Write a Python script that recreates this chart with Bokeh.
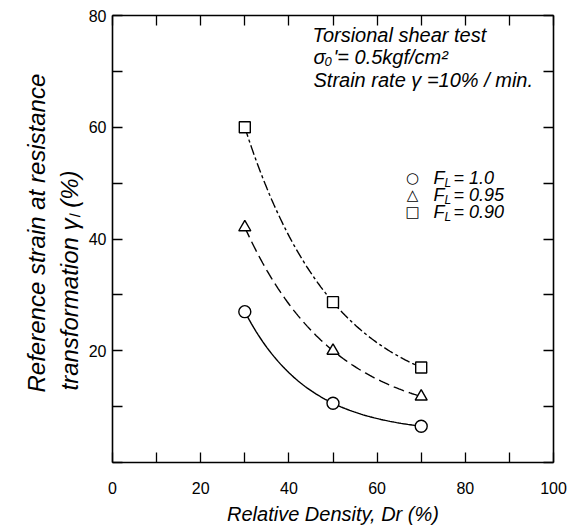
import math
import numpy as np
from bokeh.plotting import figure
from bokeh.models import Label, LinearAxis, FixedTicker, Range1d, Title
from bokeh.embed import file_html
from bokeh.resources import INLINE

# ---------------- data ----------------
dr = [30, 50, 70]                      # Relative density Dr (%)
gamma_fl100 = [27.0, 10.6, 6.5]        # F_L = 1.0  (circles)
gamma_fl095 = [42.1, 20.0, 11.8]       # F_L = 0.95 (triangles)
gamma_fl090 = [60.0, 28.7, 17.0]       # F_L = 0.90 (squares)
x_ticks = list(range(0, 101, 10))
y_ticks = list(range(0, 81, 10))
x_tick_labels = ["0", "", "20", "", "40", "", "60", "", "80", "", "100"]
y_tick_labels = ["", "", "20", "", "40", "", "60", "", "80"]

FONT = "Liberation Sans"

p = figure(width=572, height=528, x_range=Range1d(0, 100), y_range=Range1d(0, 80),
           output_backend="svg", toolbar_location=None,
           min_border_left=112, min_border_right=19, min_border_top=15, min_border_bottom=66,
           x_axis_location=None, y_axis_location=None)
p.grid.visible = False
p.outline_line_color = None
p.background_fill_color = "white"
p.border_fill_color = "white"


def style_axis(ax, ticks, labels, show_labels):
    ax.ticker = FixedTicker(ticks=ticks)
    ax.major_label_overrides = {t: l for t, l in zip(ticks, labels)}
    ax.minor_tick_line_color = None
    ax.major_tick_in = 10
    ax.major_tick_out = 0
    ax.major_tick_line_width = 1.3
    ax.major_tick_line_color = "black"
    ax.axis_line_color = "black"
    ax.axis_line_width = 1.6
    ax.major_label_text_font = FONT
    ax.major_label_text_color = "black"
    if show_labels:
        ax.major_label_text_font_size = "16px"
    else:
        ax.major_label_text_font_size = "0px"
        ax.major_label_standoff = 0


xb = LinearAxis()
style_axis(xb, x_ticks, x_tick_labels, True)
xb.major_label_standoff = 19
xb.axis_label = "Relative Density, Dr (%)"
xb.axis_label_text_font = FONT
xb.axis_label_text_font_style = "italic"
xb.axis_label_text_font_size = "20px"
xb.axis_label_text_color = "black"
xb.axis_label_standoff = 6
p.add_layout(xb, "below")

yl = LinearAxis()
style_axis(yl, y_ticks, y_tick_labels, True)
yl.major_label_standoff = 6
p.add_layout(yl, "left")

xt = LinearAxis()
style_axis(xt, x_ticks, [""] * len(x_ticks), False)
p.add_layout(xt, "above")

yr = LinearAxis()
style_axis(yr, y_ticks, [""] * len(y_ticks), False)
p.add_layout(yr, "right")

# y-axis title in two lines (inner line first)
t2 = Title(text="transformation γₗ (%)", align="left", offset=72, standoff=5,
           text_font=FONT, text_font_style="italic", text_font_size="24px",
           text_color="black")
p.add_layout(t2, "left")
t1 = Title(text="Reference strain at resistance", align="left", offset=70, standoff=3,
           text_font=FONT, text_font_style="italic", text_font_size="24px",
           text_color="black")
p.add_layout(t1, "left")


# ---------------- smooth curves through the three points ----------------
def exp_curve(xs, ys, n=80):
    x1, x2, x3 = xs
    y1, y2, y3 = ys
    h = x2 - x1
    r = (y3 - y2) / (y2 - y1)
    c = -math.log(r) / h
    b = (y2 - y1) / (math.exp(-c * x2) - math.exp(-c * x1))
    a = y1 - b * math.exp(-c * x1)
    xx = np.linspace(x1, x3, n)
    return xx, a + b * np.exp(-c * xx)


cx, cy = exp_curve(dr, gamma_fl100)
p.line(cx, cy, line_color="black", line_width=1.4)
tx, ty = exp_curve(dr, gamma_fl095)
p.line(tx, ty, line_color="black", line_width=1.4, line_dash="11 5")
sx, sy = exp_curve(dr, gamma_fl090)
p.line(sx, sy, line_color="black", line_width=1.4, line_dash="10 3 3 3")

p.scatter(dr, gamma_fl100, marker="circle", size=12, fill_color="white",
          line_color="black", line_width=1.4)
p.scatter(dr, gamma_fl095, marker="triangle", size=12, fill_color="white",
          line_color="black", line_width=1.4)
p.scatter(dr, gamma_fl090, marker="square", size=11, fill_color="white",
          line_color="black", line_width=1.4)

# ---------------- text placed relative to the top-left frame corner ----------------
FX, FY = 112, 15  # pixel position of data point (0, 80)


def lab(text, px, py, size, align="left", baseline="middle", style="italic", font=FONT):
    p.add_layout(Label(x=0, y=80, x_units="data", y_units="data",
                       x_offset=px - FX, y_offset=FY - py, text=text,
                       text_font=font, text_font_size=f"{size}px", text_font_style=style,
                       text_color="black", text_align=align, text_baseline=baseline))


# annotation
lab("Torsional shear test", 312, 34, 20)
lab("σ", 313, 56, 20)
lab("0", 324, 61, 13)
lab("'= 0.5kgf/cm²", 333, 56, 20)
lab("Strain rate γ =10% / min.", 313, 79, 20)

# legend
leg_rows = [("○", "= 1.0", 177), ("△", "= 0.95", 194), ("□", "= 0.90", 211)]
for sym, txt, py in leg_rows:
    lab(sym, 412, py, 15, align="center", style="normal", font="DejaVu Sans")
    lab("F", 433, py, 18)
    lab("L", 444, py + 5, 12)
    lab(txt, 453, py, 18)

open("out.html", "w").write(file_html(p, INLINE))
